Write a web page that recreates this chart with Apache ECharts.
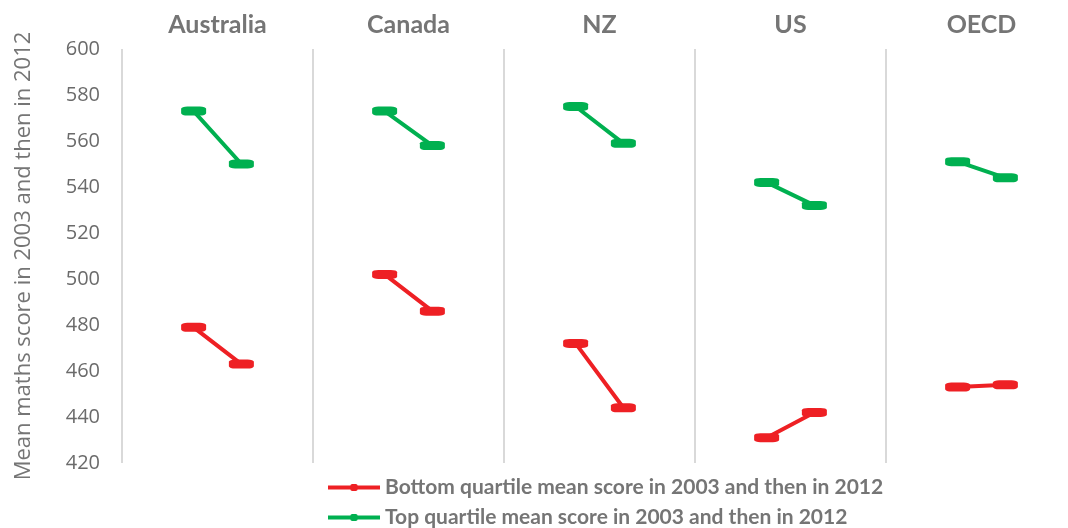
<!DOCTYPE html>
<html>
<head>
<meta charset="utf-8">
<script src="https://cdn.jsdelivr.net/npm/echarts@6/dist/echarts.min.js"></script>
<style>
  html, body { margin: 0; padding: 0; background: #fff; overflow: hidden; }
  #main { width: 1078px; height: 528px; }
</style>
</head>
<body>
<div id="main"></div>
<script>
// panels and the two years shown in each
var countries = ['Australia', 'Canada', 'NZ', 'US', 'OECD'];
var years = ['2003', '2012'];
// mean maths score, bottom quartile (2003, 2012)
var bottom2003 = [479, 502, 472, 431, 453];
var bottom2012 = [463, 486, 444, 442, 454];
// mean maths score, top quartile (2003, 2012)
var top2003 = [573, 573, 575, 542, 551];
var top2012 = [550, 558, 559, 532, 544];
var yTicks = { min: 420, max: 600, step: 20 };

// each panel has 4 slots: blank, 2003, 2012, blank
var cats = [];
var bottomData = [];
var topData = [];
countries.forEach(function (c, i) {
  cats.push(c + ' a', years[0] + ' ' + c, years[1] + ' ' + c, c + ' b');
  bottomData.push(null, bottom2003[i], bottom2012[i], null);
  topData.push(null, top2003[i], top2012[i], null);
});

var gray = '#757575';
// the plot runs a little past the right edge of the picture, like the original
var chart = echarts.init(document.getElementById('main'));
var option = {
  animation: false,
  grid: { left: 122, right: 1, top: 49, bottom: 65 },
  legend: {
    orient: 'vertical',
    left: 326,
    top: 477,
    height: 60,
    padding: 0,
    itemGap: 9,
    itemWidth: 52,
    itemHeight: 9,
    lineStyle: { width: 4 },
    textStyle: { color: gray, fontSize: 21, fontWeight: 'bold', fontFamily: 'Lato' },
    data: ['Bottom quartile mean score in 2003 and then in 2012', 'Top quartile mean score in 2003 and then in 2012']
  },
  xAxis: [
    {
      type: 'category',
      data: cats,
      axisLine: { show: false },
      axisTick: { show: false },
      axisLabel: { show: false },
      splitLine: { show: false }
    },
    {
      type: 'category',
      position: 'top',
      data: countries,
      axisLine: { show: false },
      axisTick: { show: false },
      axisLabel: { color: gray, fontSize: 25, fontWeight: 'bold', fontFamily: 'Lato', margin: 12 },
      splitLine: { show: true, lineStyle: { color: '#d9d9d9', width: 2 } }
    }
  ],
  yAxis: {
    type: 'value',
    min: yTicks.min,
    max: yTicks.max,
    interval: yTicks.step,
    name: 'Mean maths score in 2003 and then in 2012',
    nameLocation: 'middle',
    nameGap: 87,
    nameTextStyle: { color: gray, fontSize: 22, fontFamily: 'Open Sans' },
    axisLine: { show: false },
    axisTick: { show: false },
    axisLabel: { color: '#6b6b6b', fontSize: 20, fontFamily: 'Open Sans', margin: 22 },
    splitLine: { show: false }
  },
  series: [
    {
      name: 'Bottom quartile mean score in 2003 and then in 2012',
      type: 'line',
      data: bottomData,
      color: '#ee2024',
      symbol: 'roundRect',
      symbolSize: [25, 9],
      showAllSymbol: true,
      lineStyle: { width: 4 },
      itemStyle: { color: '#ee2024' }
    },
    {
      name: 'Top quartile mean score in 2003 and then in 2012',
      type: 'line',
      data: topData,
      color: '#00b050',
      symbol: 'roundRect',
      symbolSize: [25, 9],
      showAllSymbol: true,
      lineStyle: { width: 4 },
      itemStyle: { color: '#00b050' }
    }
  ]
};
chart.setOption(option);
</script>
</body>
</html>
